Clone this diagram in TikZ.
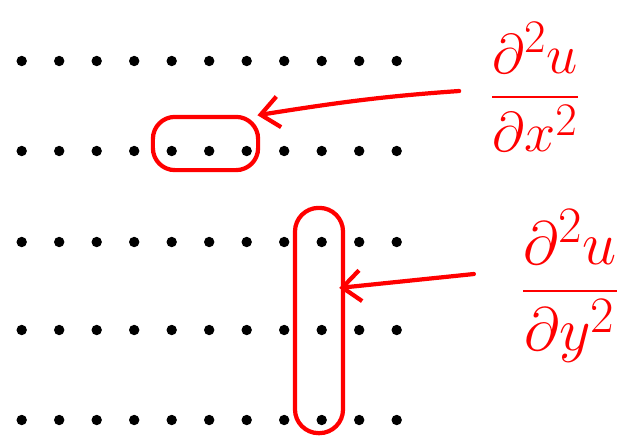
\documentclass[tikz,border=0pt]{standalone}
\usepackage{amsmath,amssymb}
\usepackage{graphicx}
\definecolor{tinta}{RGB}{255,0,0}
\usetikzlibrary{arrows.meta,positioning}

\begin{document}
\begin{tikzpicture}[x=0.025cm, y=-0.025cm,
        punto/.style={circle, fill=black, inner sep=0pt, minimum size=0.26cm},
        lazo/.style={draw=tinta, line width=3pt, rounded corners=0.55cm, inner sep=0pt},
        deriv/.style={text=tinta, inner sep=0pt},
        flecha/.style={-{Straight Barb[length=13pt, width=22pt, line width=3pt]}, line width=3pt, tinta, line cap=round}
    ]
        \useasboundingbox (0,0) rectangle (629,437);
        % malla de puntos
        \foreach \r [count=\j] in {61,151,242,330,420}
            \foreach \i in {0,...,10}
                \node (p\j-\i) [punto] at ({21.7+37.5*\i}, \r) {};
        % lazos
        \node (hx) [lazo, minimum width=2.63cm, minimum height=1.33cm] at (205.5, 143.5) {};
        \node (hy) [lazo, minimum width=1.2cm, minimum height=5.63cm, rounded corners=0.59cm] at (319, 320.5) {};
        % derivadas
        \node (fx) [deriv] at (535, 87)
            {\scalebox{1.6}{\Huge$\dfrac{\partial^2 u}{\partial x^2}$}};
        \node (fy) [deriv] at (570, 286)
            {\scalebox{1.75}{\Huge$\dfrac{\partial^2 u}{\partial y^2}$}};
        \coordinate (tx) at ([xshift=-0.75cm, yshift=-0.1cm]fx.west);
        \coordinate (ty) at ([xshift=-1.15cm, yshift=0.3cm]fy.west);
        % flechas
        \draw[flecha, shorten >=-2pt] (tx) to[out=184, in=9] (hx.north east);
        \draw[flecha, shorten >=-0.15cm] (ty) -- ([yshift=0.83cm]hy.east);
    \end{tikzpicture}
\end{document}
